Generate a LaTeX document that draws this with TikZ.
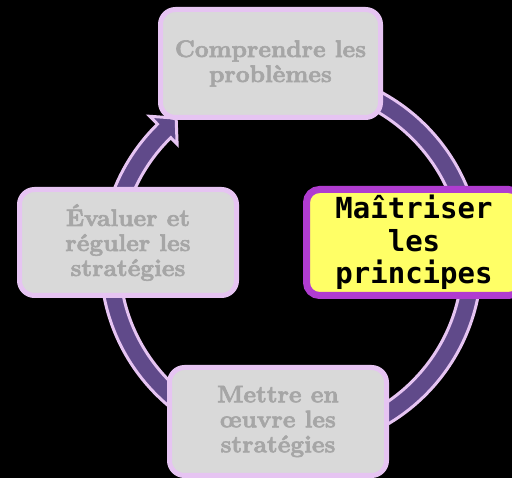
\documentclass[tikz,border=0pt]{standalone}
\usepackage{fontspec}
\newfontface\fatface{lmroman10-bold.otf}[FakeBold=2.5]
\newfontface\monob{DejaVu Sans Mono Bold}
\definecolor{lav}{HTML}{E6C4F2}
\definecolor{ringpurple}{HTML}{604A8A}
\definecolor{boxgray}{HTML}{D9D9D9}
\definecolor{txtgray}{HTML}{A6A6A6}
\definecolor{hlborder}{HTML}{B03CD0}
\definecolor{hlfill}{HTML}{FFFF66}
\tikzset{
  graybox/.style={draw=lav, line width=5pt, fill=boxgray, rounded corners=15pt,
    text=txtgray, font=\fatface\fontsize{24}{25}\selectfont, align=center, inner sep=0pt},
  hlbox/.style={draw=hlborder, line width=7pt, fill=hlfill, rounded corners=13pt,
    text=black, font=\monob\fontsize{29}{32.5}\selectfont, align=center, inner sep=0pt,
    minimum width=215pt, minimum height=106pt},
  ringband/.style={fill=ringpurple, draw=lav, line width=3pt, line join=miter}
}
\begin{document}
\begin{tikzpicture}[x=1pt,y=1pt]
\fill[black] (0,0) rectangle (512,478);
\useasboundingbox (0,0) rectangle (512,478);
% circular arrow
\begin{scope}[shift={(291,218)}]
\draw[ringband] (100:190.5) arc[start angle=100,end angle=-225.5,radius=190.5]
  -- (134.5:201.5) -- (129:182.5) -- (134.5:162.5) -- (134.5:171.5)
  arc[start angle=-225.5,end angle=100,radius=171.5] -- cycle;
\end{scope}
% boxes
\node[graybox, minimum width=220pt, minimum height=108pt] (top) at (270.5,414.5) {Comprendre les\\probl\`emes};
\node[hlbox] (right) at (414,235.5) {Ma\^itriser\\les\\principes};
\node[graybox, minimum width=217pt, minimum height=106pt] (left) at (128,235.5) {\'Evaluer et\\r\'eguler les\\strat\'egies};
\node[graybox, minimum width=217pt, minimum height=108pt] (bottom) at (278,56.5) {Mettre en\\\oe uvre les\\strat\'egies};
\end{tikzpicture}
\end{document}
